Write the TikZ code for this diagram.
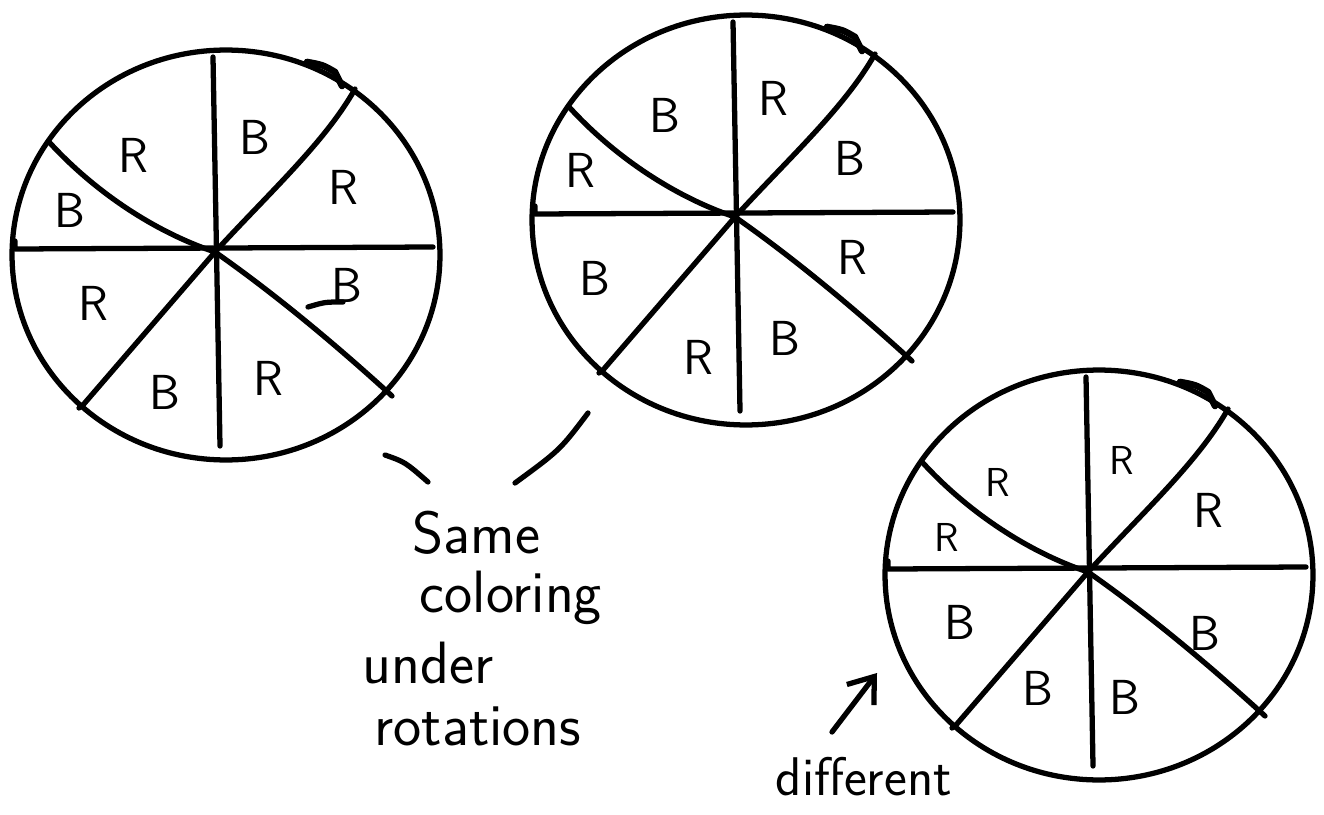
\documentclass[tikz,border=0pt]{standalone}
\usepackage{tikz}
\usetikzlibrary{
	arrows.meta,
	positioning
}

\begin{document}
\begin{tikzpicture}[
    x=0.02cm, y=-0.02cm,
    line width=3pt, line cap=round, line join=round,
    letter/.style={font=\sffamily\fontsize{28}{30}\selectfont, inner sep=0pt},
    smallletter/.style={font=\sffamily\fontsize{23}{25}\selectfont, inner sep=0pt},
    note/.style={font=\sffamily\fontsize{34}{38}\selectfont, inner sep=0pt, anchor=base west},
    arrow/.style={-{Straight Barb[length=4.6mm, width=6.8mm]}},
    wheel/.pic={
        \draw (11,3) ellipse [x radius=4.28cm, y radius=4.1cm];
        \draw (-2,-195) -- (5,194);
        \draw (-200,-11) -- (-200,-3) -- (218,-5);
        \draw (0,0) .. controls (55,-60) and (110,-110) .. (140,-163);
        \draw (0,0) -- (-132,153) -- (-136,156);
        \draw (-165,-109) .. controls (-120,-60) and (-60,-20) .. (0,0);
        \draw (0,0) .. controls (60,42) and (120,92) .. (177,144);
        \draw[line width=3.8pt] (92,-190) .. controls (108,-187) .. (120,-180) -- (127,-166);
    }
]
\useasboundingbox (0,0) rectangle (1324,814);

\pic (wheelA) at (215,252) {wheel};
\pic (wheelB) at (735,217) {wheel};
\pic (wheelC) at (1088,572) {wheel};

\node[letter] (a1) at (133,155) {R};
\node[letter] (a2) at (255,137) {B};
\node[letter] (a3) at (343,187) {R};
\node[letter] (a4) at (347,285) {B};
\node[letter] (a5) at (268,378) {R};
\node[letter] (a6) at (165,392) {B};
\node[letter] (a7) at (93,303) {R};
\node[letter] (a8) at (70,210) {B};
\draw (308,307) .. controls (325,302) .. (343,302);

\node[letter] (b1) at (665,115) {B};
\node[letter] (b2) at (773,98) {R};
\node[letter] (b3) at (850,158) {B};
\node[letter] (b4) at (852,257) {R};
\node[letter] (b5) at (785,338) {B};
\node[letter] (b6) at (698,357) {R};
\node[letter] (b7) at (595,278) {B};
\node[letter] (b8) at (580,170) {R};

\node[smallletter] (c1) at (998,482) {R};
\node[smallletter] (c2) at (1122,460) {R};
\node[letter] (c3) at (1208,510) {R};
\node[letter] (c4) at (1205,633) {B};
\node[letter] (c5) at (1125,697) {B};
\node[letter] (c6) at (1038,688) {B};
\node[letter] (c7) at (960,622) {B};
\node[smallletter] (c8) at (947,537) {R};

\node[note] (same) at (410,553) {Same};
\node[note] (coloring) at (417,612) {coloring};
\node[note] (under) at (360,683) {under};
\node[note] (rotations) at (372,745) {rotations};
\node[note, font=\sffamily\fontsize{31}{34}\selectfont] (different) at (773,795) {different};

\coordinate (leftend) at (385,455);
\coordinate (leftstart) at (428,482);
\coordinate (rightstart) at (515,483);
\coordinate (rightend) at (588,413);
\draw (leftend) .. controls (405,462) .. (leftstart);
\draw (rightstart) .. controls (560,450) .. (rightend);

\coordinate (difftail) at (832,732);
\coordinate (difftip) at (877,673);
\draw[arrow] (difftail) -- (difftip);
\end{tikzpicture}
\end{document}
